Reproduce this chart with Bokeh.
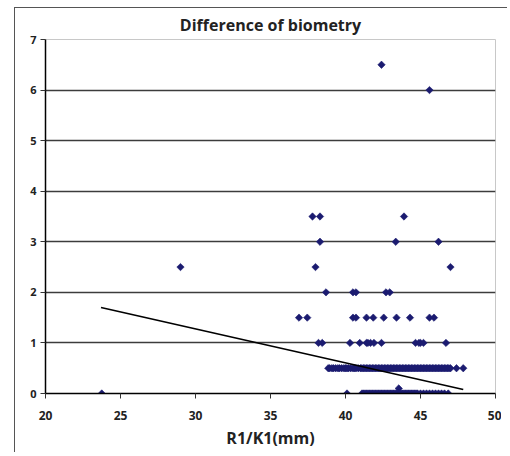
import numpy as np
from bokeh.plotting import figure
from bokeh.models import Range1d, FixedTicker, ColumnDataSource, InlineStyleSheet
from bokeh.embed import file_html
from bokeh.resources import INLINE

# ---- data ----
title_text = "Difference of biometry"
x_label = "R1/K1(mm)"
x_ticks = [20, 25, 30, 35, 40, 45, 50]
y_ticks = [0, 1, 2, 3, 4, 5, 6, 7]

x_at_6_5 = [42.4]
x_at_6_0 = [45.6]
x_at_3_5 = [37.8, 38.3, 43.9]
x_at_3_0 = [38.3, 43.35, 46.2]
x_at_2_5 = [29.0, 38.0, 47.0]
x_at_2_0 = [38.7, 40.5, 40.7, 42.7, 42.95]
x_at_1_5 = [36.9, 37.45, 40.5, 40.7, 41.4, 41.85, 42.55, 43.4, 44.3, 45.6, 45.9]
x_at_1_0 = [38.2, 38.45, 40.3, 40.95, 41.4, 41.5, 41.67, 41.9, 42.4,
            44.67, 44.9, 45.0, 45.2, 46.7]
x_at_0_5 = [38.85, 38.95, 39.1, 39.2, 39.35, 39.5, 39.6, 39.75, 39.9, 40.0,
            40.1, 40.2, 40.35, 40.5, 40.6, 40.7, 40.85, 41.0, 41.1, 41.2,
            41.3, 41.4, 41.5, 41.6, 41.7, 41.8, 41.9, 42.0, 42.1, 42.2,
            42.3, 42.4, 42.5, 42.6, 42.7, 42.8, 42.9, 43.0, 43.1, 43.2,
            43.3, 43.4, 43.5, 43.6, 43.7, 43.8, 43.9, 44.0, 44.1, 44.2,
            44.3, 44.4, 44.5, 44.6, 44.7, 44.8, 44.9, 45.0, 45.1, 45.2,
            45.3, 45.4, 45.5, 45.6, 45.7, 45.8, 45.9, 46.0, 46.1, 46.2,
            46.3, 46.4, 46.5, 46.6, 46.7, 46.8, 46.9, 47.0, 47.4, 47.85]
x_at_0_1 = [43.55]
x_at_0_0 = [23.75, 40.1, 41.1, 41.2, 41.3, 41.4, 41.5, 41.6, 41.7, 41.8,
            41.9, 42.0, 42.1, 42.2, 42.3, 42.4, 42.5, 42.6, 42.7, 42.8,
            42.9, 43.0, 43.1, 43.2, 43.3, 43.4, 43.5, 43.6, 43.7, 43.8,
            43.9, 44.0, 44.1, 44.2, 44.3, 44.4, 44.5, 44.6, 44.7, 44.8,
            45.0, 45.2, 45.4, 45.6, 45.8, 46.0, 46.2, 46.4, 46.6, 46.85]

levels = [(6.5, x_at_6_5), (6.0, x_at_6_0), (3.5, x_at_3_5), (3.0, x_at_3_0),
          (2.5, x_at_2_5), (2.0, x_at_2_0), (1.5, x_at_1_5), (1.0, x_at_1_0),
          (0.5, x_at_0_5), (0.1, x_at_0_1), (0.0, x_at_0_0)]

trend_x = [23.7, 47.85]
trend_y = [1.70, 0.08]

xs, ys = [], []
for yv, xl in levels:
    xs.extend(xl)
    ys.extend([yv] * len(xl))
src = ColumnDataSource(dict(x=xs, y=ys))

# ---- figure ----
NAVY = "#1b1b70"
FONT = "Open Sans"

p = figure(frame_width=450, frame_height=354, output_backend="svg",
           toolbar_location=None,
           x_range=Range1d(20, 50), y_range=Range1d(0, 7),
           min_border_left=30, min_border_right=6, min_border_top=31,
           min_border_bottom=10)
# shift the chart; the outer chart-area edge (left/top) is an overlay line
p.styles = {"position": "relative", "left": "15px", "top": "8px"}
p.stylesheets = [InlineStyleSheet(css="""
:host::after {
  content: "";
  position: absolute;
  left: -1px; top: -1px; right: -6px; bottom: -1px;
  border-left: 1px solid #555555;
  border-top: 1px solid #555555;
  pointer-events: none;
  z-index: 1000;
}
""")]

p.title.text = title_text
p.title.align = "center"
p.title.text_font = FONT
p.title.text_font_size = "16px"
p.title.text_font_style = "bold"
p.title.text_color = "#222222"
p.title.standoff = 7

p.background_fill_color = "white"
p.border_fill_color = "white"
p.outline_line_color = "#c8c8c8"
p.outline_line_width = 1

p.xgrid.visible = False
p.ygrid.ticker = FixedTicker(ticks=[1, 2, 3, 4, 5, 6])
p.ygrid.grid_line_color = "#3c3c3c"
p.ygrid.grid_line_width = 1.3

p.xaxis.ticker = FixedTicker(ticks=x_ticks)
p.yaxis.ticker = FixedTicker(ticks=y_ticks)
for ax in (p.xaxis, p.yaxis):
    ax.axis_line_color = "black"
    ax.axis_line_width = 1.5
    ax.major_tick_line_color = "#333333"
    ax.major_tick_line_width = 1
    ax.major_tick_in = 0
    ax.major_tick_out = 5
    ax.minor_tick_line_color = None
    ax.major_label_text_font = FONT
    ax.major_label_text_font_style = "bold"
    ax.major_label_text_color = "#222222"

p.yaxis.major_label_text_font_size = "11px"
p.yaxis.major_label_standoff = 4
p.xaxis.major_label_text_font_size = "12px"
p.xaxis.major_label_standoff = 12

p.xaxis.axis_label = x_label
p.xaxis.axis_label_text_font = FONT
p.xaxis.axis_label_text_font_size = "16px"
p.xaxis.axis_label_text_font_style = "bold"
p.xaxis.axis_label_text_color = "#222222"
p.xaxis.axis_label_standoff = 4

p.scatter("x", "y", source=src, marker="square", angle=np.pi / 4, size=5.2,
          fill_color=NAVY, line_color=NAVY, line_width=0.6)
p.line(trend_x, trend_y, line_color="black", line_width=1.6)

open("out.html", "w").write(file_html(p, INLINE))
